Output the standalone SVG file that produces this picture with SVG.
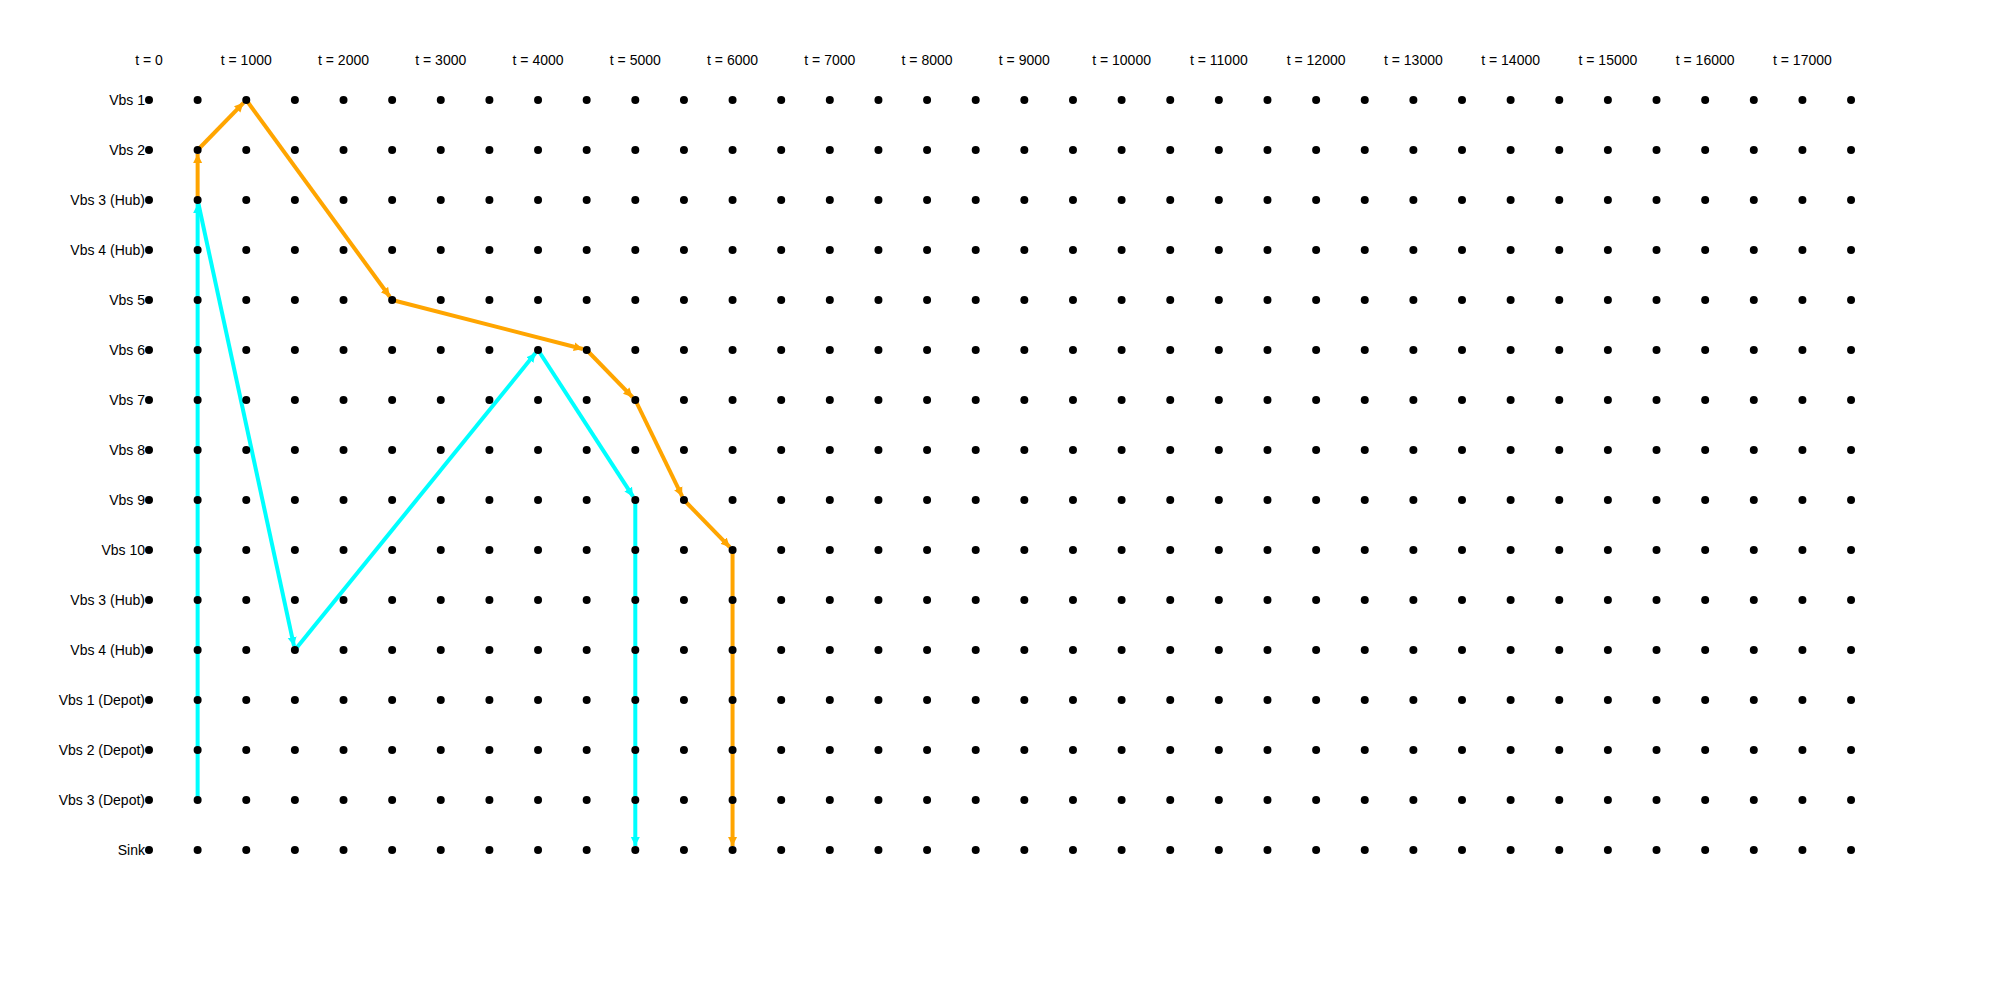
<svg xmlns="http://www.w3.org/2000/svg" xmlns:xlink="http://www.w3.org/1999/xlink" width="2000" height="1000" viewBox="0 0 2000 1000">
<style>
text{font-family:"Liberation Sans",Arial,Helvetica,sans-serif;font-size:14px;fill:#000}
.rl{text-anchor:end;dominant-baseline:central}
.cl{text-anchor:middle;dominant-baseline:central}
.dot{fill:#000}
.o{stroke:#FFA500;stroke-width:4;fill:none;marker-end:url(#ao)}
.c{stroke:#00FFFF;stroke-width:4;fill:none;marker-end:url(#ac)}
</style>
<defs>
<marker id="ao" markerUnits="userSpaceOnUse" markerWidth="10" markerHeight="10" refX="9" refY="5" orient="auto"><path d="M0,0.5 L9,5 L0,9.5 z" fill="#FFA500"/></marker>
<marker id="ac" markerUnits="userSpaceOnUse" markerWidth="10" markerHeight="10" refX="9" refY="5" orient="auto"><path d="M0,0.5 L9,5 L0,9.5 z" fill="#00FFFF"/></marker>
<g id="dotrow">
<circle class="dot" r="4" cx="149" cy="0"/><circle class="dot" r="4" cx="197.63" cy="0"/><circle class="dot" r="4" cx="246.26" cy="0"/><circle class="dot" r="4" cx="294.89" cy="0"/><circle class="dot" r="4" cx="343.52" cy="0"/><circle class="dot" r="4" cx="392.15" cy="0"/><circle class="dot" r="4" cx="440.78" cy="0"/><circle class="dot" r="4" cx="489.41" cy="0"/><circle class="dot" r="4" cx="538.04" cy="0"/><circle class="dot" r="4" cx="586.67" cy="0"/><circle class="dot" r="4" cx="635.3" cy="0"/><circle class="dot" r="4" cx="683.93" cy="0"/><circle class="dot" r="4" cx="732.56" cy="0"/><circle class="dot" r="4" cx="781.19" cy="0"/><circle class="dot" r="4" cx="829.82" cy="0"/><circle class="dot" r="4" cx="878.45" cy="0"/><circle class="dot" r="4" cx="927.08" cy="0"/><circle class="dot" r="4" cx="975.71" cy="0"/><circle class="dot" r="4" cx="1024.34" cy="0"/><circle class="dot" r="4" cx="1072.97" cy="0"/><circle class="dot" r="4" cx="1121.6" cy="0"/><circle class="dot" r="4" cx="1170.23" cy="0"/><circle class="dot" r="4" cx="1218.86" cy="0"/><circle class="dot" r="4" cx="1267.49" cy="0"/><circle class="dot" r="4" cx="1316.12" cy="0"/><circle class="dot" r="4" cx="1364.75" cy="0"/><circle class="dot" r="4" cx="1413.38" cy="0"/><circle class="dot" r="4" cx="1462.01" cy="0"/><circle class="dot" r="4" cx="1510.64" cy="0"/><circle class="dot" r="4" cx="1559.27" cy="0"/><circle class="dot" r="4" cx="1607.9" cy="0"/><circle class="dot" r="4" cx="1656.53" cy="0"/><circle class="dot" r="4" cx="1705.16" cy="0"/><circle class="dot" r="4" cx="1753.79" cy="0"/><circle class="dot" r="4" cx="1802.42" cy="0"/><circle class="dot" r="4" cx="1851.05" cy="0"/>
</g>
</defs>
<rect width="2000" height="1000" fill="#fff"/>
<g id="time-labels">
<text class="cl" x="149" y="60">t = 0</text>
<text class="cl" x="246.26" y="60">t = 1000</text>
<text class="cl" x="343.52" y="60">t = 2000</text>
<text class="cl" x="440.78" y="60">t = 3000</text>
<text class="cl" x="538.04" y="60">t = 4000</text>
<text class="cl" x="635.3" y="60">t = 5000</text>
<text class="cl" x="732.56" y="60">t = 6000</text>
<text class="cl" x="829.82" y="60">t = 7000</text>
<text class="cl" x="927.08" y="60">t = 8000</text>
<text class="cl" x="1024.34" y="60">t = 9000</text>
<text class="cl" x="1121.6" y="60">t = 10000</text>
<text class="cl" x="1218.86" y="60">t = 11000</text>
<text class="cl" x="1316.12" y="60">t = 12000</text>
<text class="cl" x="1413.38" y="60">t = 13000</text>
<text class="cl" x="1510.64" y="60">t = 14000</text>
<text class="cl" x="1607.9" y="60">t = 15000</text>
<text class="cl" x="1705.16" y="60">t = 16000</text>
<text class="cl" x="1802.42" y="60">t = 17000</text>
</g>
<g id="connectors">
<line class="c" x1="197.63" y1="800" x2="197.63" y2="204"/>
<line class="c" x1="197.63" y1="200" x2="294.04" y2="646.09"/>
<line class="c" x1="294.89" y1="650" x2="535.52" y2="353.11"/>
<line class="c" x1="538.04" y1="350" x2="633.12" y2="496.64"/>
<line class="c" x1="635.3" y1="500" x2="635.3" y2="846"/>
<line class="o" x1="197.63" y1="200" x2="197.63" y2="154"/>
<line class="o" x1="197.63" y1="150" x2="243.47" y2="102.87"/>
<line class="o" x1="246.26" y1="100" x2="389.79" y2="296.77"/>
<line class="o" x1="392.15" y1="300" x2="582.8" y2="349"/>
<line class="o" x1="586.67" y1="350" x2="632.51" y2="397.13"/>
<line class="o" x1="635.3" y1="400" x2="682.18" y2="496.4"/>
<line class="o" x1="683.93" y1="500" x2="729.77" y2="547.13"/>
<line class="o" x1="732.56" y1="550" x2="732.56" y2="846"/>
</g>
<g id="row-vbs1"><text class="rl" x="145" y="100">Vbs 1</text><use xlink:href="#dotrow" y="100"/></g>
<g id="row-vbs2"><text class="rl" x="145" y="150">Vbs 2</text><use xlink:href="#dotrow" y="150"/></g>
<g id="row-vbs3-hub-a"><text class="rl" x="145" y="200">Vbs 3 (Hub)</text><use xlink:href="#dotrow" y="200"/></g>
<g id="row-vbs4-hub-a"><text class="rl" x="145" y="250">Vbs 4 (Hub)</text><use xlink:href="#dotrow" y="250"/></g>
<g id="row-vbs5"><text class="rl" x="145" y="300">Vbs 5</text><use xlink:href="#dotrow" y="300"/></g>
<g id="row-vbs6"><text class="rl" x="145" y="350">Vbs 6</text><use xlink:href="#dotrow" y="350"/></g>
<g id="row-vbs7"><text class="rl" x="145" y="400">Vbs 7</text><use xlink:href="#dotrow" y="400"/></g>
<g id="row-vbs8"><text class="rl" x="145" y="450">Vbs 8</text><use xlink:href="#dotrow" y="450"/></g>
<g id="row-vbs9"><text class="rl" x="145" y="500">Vbs 9</text><use xlink:href="#dotrow" y="500"/></g>
<g id="row-vbs10"><text class="rl" x="145" y="550">Vbs 10</text><use xlink:href="#dotrow" y="550"/></g>
<g id="row-vbs3-hub-b"><text class="rl" x="145" y="600">Vbs 3 (Hub)</text><use xlink:href="#dotrow" y="600"/></g>
<g id="row-vbs4-hub-b"><text class="rl" x="145" y="650">Vbs 4 (Hub)</text><use xlink:href="#dotrow" y="650"/></g>
<g id="row-vbs1-depot"><text class="rl" x="145" y="700">Vbs 1 (Depot)</text><use xlink:href="#dotrow" y="700"/></g>
<g id="row-vbs2-depot"><text class="rl" x="145" y="750">Vbs 2 (Depot)</text><use xlink:href="#dotrow" y="750"/></g>
<g id="row-vbs3-depot"><text class="rl" x="145" y="800">Vbs 3 (Depot)</text><use xlink:href="#dotrow" y="800"/></g>
<g id="row-sink"><text class="rl" x="145" y="850">Sink</text><use xlink:href="#dotrow" y="850"/></g>
</svg>
